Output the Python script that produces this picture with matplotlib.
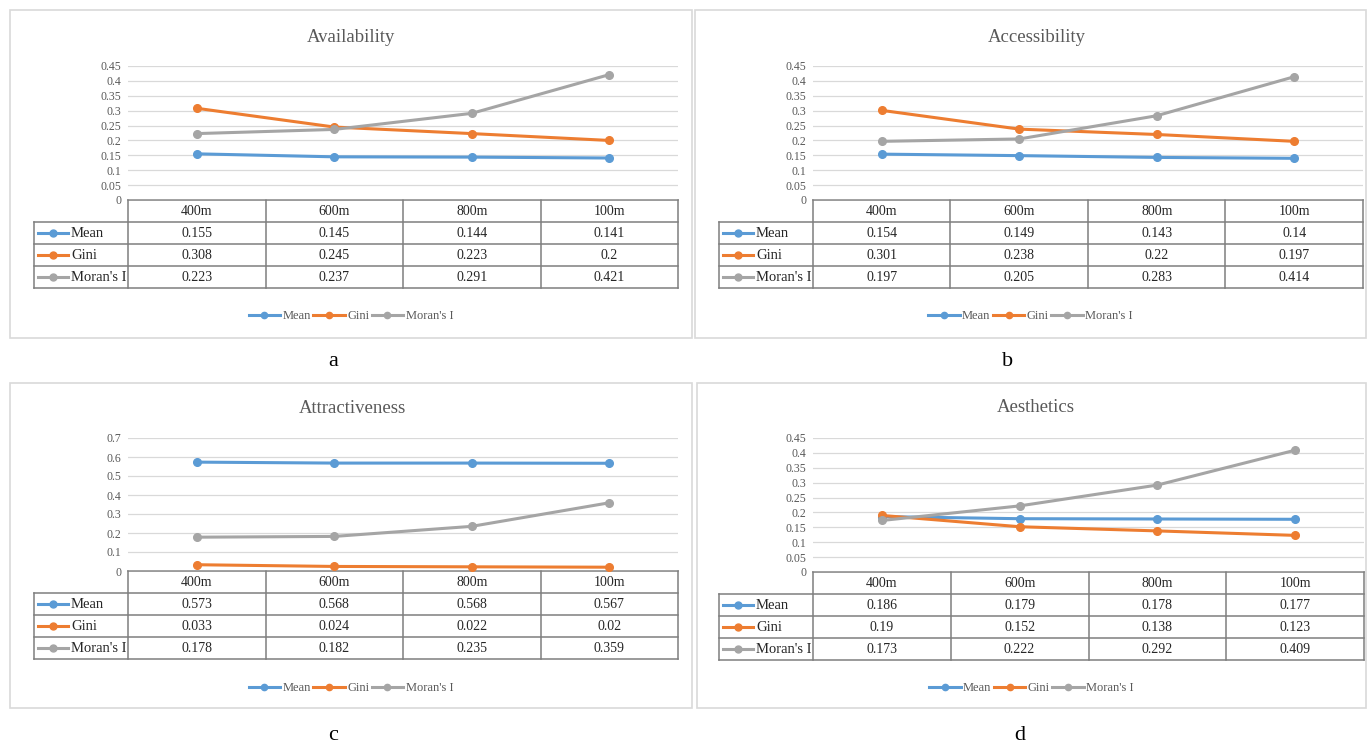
import matplotlib
matplotlib.use('Agg')
import matplotlib.pyplot as plt
from matplotlib.patches import Rectangle
from matplotlib.lines import Line2D
import numpy as np

plt.rcParams['font.family'] = ['Liberation Serif', 'DejaVu Serif']

W, H = 1368, 744

# ---- data ----
distances = ['400m', '600m', '800m', '100m']
series_names = ['Mean', 'Gini', "Moran's I"]
titles = ['Availability', 'Accessibility', 'Attractiveness', 'Aesthetics']
panel_labels = ['a', 'b', 'c', 'd']

availability_mean = [0.155, 0.145, 0.144, 0.141]
availability_gini = [0.308, 0.245, 0.223, 0.2]
availability_moran = [0.223, 0.237, 0.291, 0.421]

accessibility_mean = [0.154, 0.149, 0.143, 0.14]
accessibility_gini = [0.301, 0.238, 0.22, 0.197]
accessibility_moran = [0.197, 0.205, 0.283, 0.414]

attractiveness_mean = [0.573, 0.568, 0.568, 0.567]
attractiveness_gini = [0.033, 0.024, 0.022, 0.02]
attractiveness_moran = [0.178, 0.182, 0.235, 0.359]

aesthetics_mean = [0.186, 0.179, 0.178, 0.177]
aesthetics_gini = [0.19, 0.152, 0.138, 0.123]
aesthetics_moran = [0.173, 0.222, 0.292, 0.409]

y_max = [0.45, 0.45, 0.7, 0.45]
y_step = [0.05, 0.05, 0.1, 0.05]

colors = ['#5B9BD5', '#ED7D31', '#A5A5A5']
TXT = '#595959'
GRID = '#D9D9D9'
TABLE_LINE = '#7F7F7F'

# pixel layout for each panel
layout = [
    # box (x0, y0, x1, y1), plot left/right, y of top tick, y of zero, table left,
    # title xy, legend y, label xy
    dict(box=(10, 10, 692, 338), pl=128, pr=678, ytop=66, yzero=200, tl=34,
         tt=(351, 37), ly=316, lab=(333, 361)),
    dict(box=(695, 10, 1366, 338), pl=813, pr=1363, ytop=66, yzero=200, tl=719,
         tt=(1037, 37), ly=316, lab=(1008, 361)),
    dict(box=(10, 383, 692, 708), pl=128, pr=678, ytop=438, yzero=571, tl=34,
         tt=(352, 409), ly=688, lab=(333, 735)),
    dict(box=(697, 383, 1366, 708), pl=813, pr=1364, ytop=438, yzero=572, tl=719,
         tt=(1036, 408), ly=688, lab=(1020, 735)),
]
ROW_H = 22


def frect(x0, y0, x1, y1):
    return [x0 / W, 1 - y1 / H, (x1 - x0) / W, (y1 - y0) / H]


def fmt(v):
    return f"{v:g}"


fig = plt.figure(figsize=(W / 100, H / 100), dpi=100)
fig.patch.set_facecolor('white')

panel_data = [
    [availability_mean, availability_gini, availability_moran],
    [accessibility_mean, accessibility_gini, accessibility_moran],
    [attractiveness_mean, attractiveness_gini, attractiveness_moran],
    [aesthetics_mean, aesthetics_gini, aesthetics_moran],
]

for i, lay in enumerate(layout):
    x0, y0, x1, y1 = lay['box']
    fig.patches.append(Rectangle((x0 / W, 1 - y1 / H), (x1 - x0) / W, (y1 - y0) / H,
                                 transform=fig.transFigure, facecolor='white',
                                 edgecolor='#D9D9D9', linewidth=1.2, zorder=-5))

    # line chart
    ax = fig.add_axes(frect(lay['pl'], lay['ytop'], lay['pr'], lay['yzero']))
    ax.set_zorder(2)
    xs = np.arange(len(distances)) + 0.5
    for name, vals, c in zip(series_names, panel_data[i], colors):
        ax.plot(xs, vals, color=c, lw=2.2, marker='o', ms=5.5, label=name,
                solid_capstyle='round', zorder=3, clip_on=False)
    ax.set_xlim(0, len(distances))
    ax.set_ylim(0, y_max[i])
    ticks = np.round(np.arange(0, y_max[i] + 1e-9, y_step[i]), 2)
    ax.set_yticks(ticks)
    ax.set_yticklabels([fmt(t) for t in ticks], fontsize=8.5, color=TXT)
    ax.set_xticks([])
    ax.tick_params(axis='y', length=0, pad=5)
    ax.grid(axis='y', color=GRID, lw=0.9)
    ax.set_axisbelow(True)
    for s in ax.spines.values():
        s.set_visible(False)
    ax.patch.set_alpha(0)

    fig.text(lay['tt'][0] / W, 1 - lay['tt'][1] / H, titles[i], ha='center', va='center',
             fontsize=13.5, color=TXT)

    # data table below the chart
    col_w = (lay['pr'] - lay['pl']) / len(distances)
    L = (lay['pl'] - lay['tl']) / col_w
    tax = fig.add_axes(frect(lay['tl'], lay['yzero'], lay['pr'], lay['yzero'] + 4 * ROW_H))
    tax.set_zorder(1)
    tax.set_xlim(-L, len(distances))
    tax.set_ylim(4, 0)
    tax.axis('off')
    n = len(distances)
    tax.plot([0, n], [0, 0], color=TABLE_LINE, lw=1.1, clip_on=False)
    for r in range(1, 5):
        tax.plot([-L, n], [r, r], color=TABLE_LINE, lw=1.1, clip_on=False)
    tax.plot([-L, -L], [1, 4], color=TABLE_LINE, lw=1.1, clip_on=False)
    for c in range(n + 1):
        tax.plot([c, c], [0, 4], color=TABLE_LINE, lw=1.1, clip_on=False)
    for j, d in enumerate(distances):
        tax.text(j + 0.5, 0.52, d, ha='center', va='center', fontsize=10, color='#262626')
    for r, (name, vals, c) in enumerate(zip(series_names, panel_data[i], colors)):
        yy = r + 1.5
        tax.plot([-L + 4 / col_w, -L + 34 / col_w], [yy, yy], color=c, lw=2.2, clip_on=False)
        tax.plot([-L + 19 / col_w], [yy], color=c, marker='o', ms=5, clip_on=False)
        tax.text(-L + 37 / col_w, yy + 0.02, name, ha='left', va='center', fontsize=10.5,
                 color='#262626')
        for j, v in enumerate(vals):
            tax.text(j + 0.5, yy + 0.02, fmt(v), ha='center', va='center', fontsize=10,
                     color='#262626')

    # bottom legend
    cx = (x0 + x1) / 2
    handles = [Line2D([], [], color=c, lw=2.2, marker='o', ms=4.5) for c in colors]
    fig.legend(handles, series_names, loc='center', ncol=3, frameon=False,
               bbox_to_anchor=(cx / W, 1 - lay['ly'] / H), fontsize=9,
               labelcolor=TXT, handlelength=2.5, handletextpad=0.2,
               columnspacing=0.2)

    fig.text(lay['lab'][0] / W, 1 - lay['lab'][1] / H, panel_labels[i], ha='center',
             va='center', fontsize=16, color='black')

fig.savefig('out.png', dpi=100, facecolor='white')
